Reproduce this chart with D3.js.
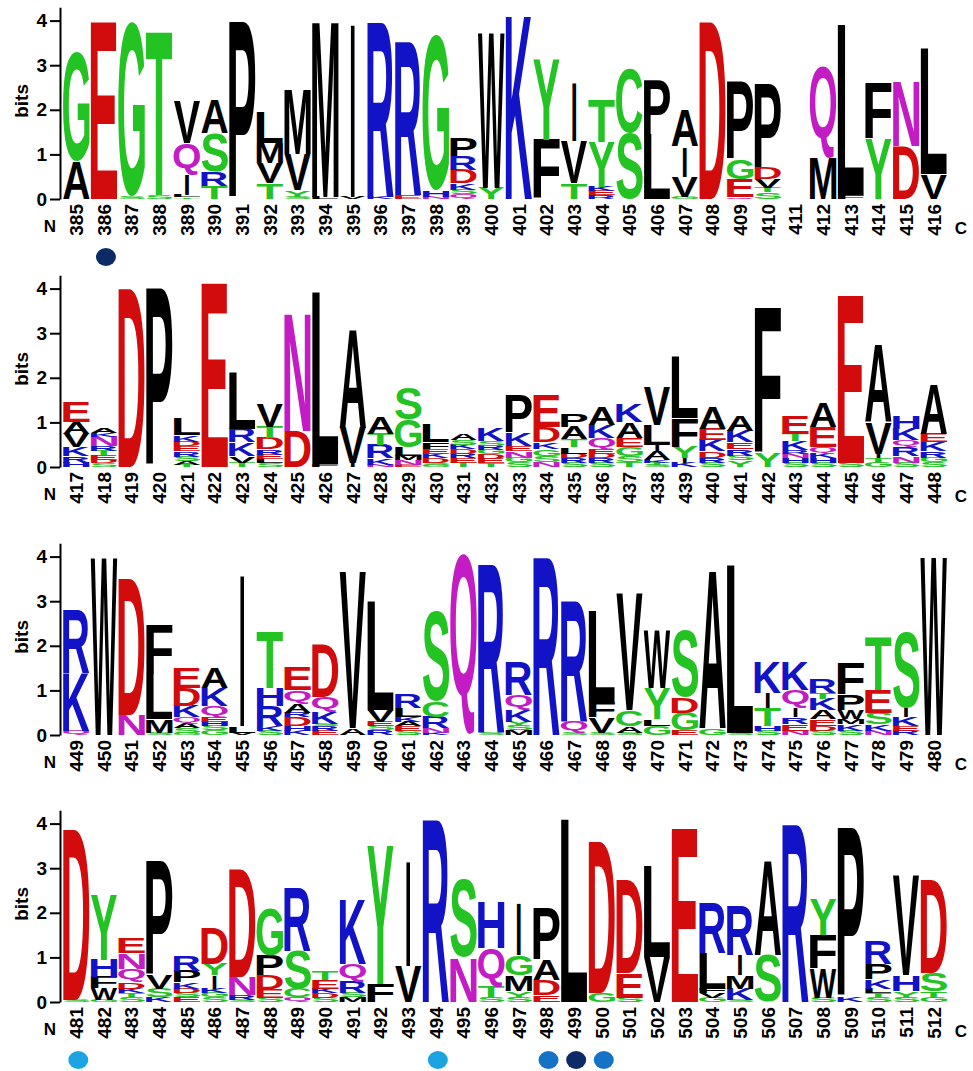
<!DOCTYPE html>
<html><head><meta charset="utf-8">
<script src="https://cdn.jsdelivr.net/npm/d3@7"></script>
<style>body{margin:0;background:#fff} svg{display:block}</style>
</head><body>
<svg id="chart" width="973" height="1071"></svg>
<script>
// ---- DATA ----
const rowStartPositions = [385, 417, 449, 481];
const yTickValues = [0, 1, 2, 3, 4];
// each stack: letters bottom -> top, [residue, bits]
const stacksRow1 = [
 [["A",0.85],["G",2.45]],
 [["E",3.95]],
 [["S",0.05],["G",3.9]],
 [["S",0.08],["T",3.7]],
 [["T",0.04],["L",0.06],["I",0.45],["Q",0.7],["V",0.95]],
 [["T",0.3],["R",0.32],["S",0.85],["A",0.75]],
 [["P",3.95]],
 [["T",0.35],["V",0.45],["M",0.45],["L",0.7]],
 [["S",0.05],["Y",0.15],["V",0.8],["M",1.45]],
 [["L",0.05],["M",3.95]],
 [["V",0.04],["I",3.9]],
 [["K",0.05],["R",3.9]],
 [["E",0.08],["R",3.42]],
 [["N",0.05],["H",0.15],["G",3.5]],
 [["Q",0.1],["S",0.1],["K",0.15],["D",0.3],["R",0.3],["P",0.4]],
 [["Y",0.25],["W",3.48]],
 [["K",4.15]],
 [["F",1.33],["Y",1.8]],
 [["T",0.35],["V",0.95],["I",1.32]],
 [["R",0.08],["E",0.1],["K",0.1],["Y",1.0],["T",0.95]],
 [["S",1.48],["C",1.46]],
 [["L",1.45],["P",1.22]],
 [["G",0.05],["V",0.45],["I",0.68],["A",0.82]],
 [["D",3.95]],
 [["Q",0.05],["E",0.4],["G",0.45],["P",1.75]],
 [["S",0.15],["T",0.1],["V",0.2],["D",0.25],["P",1.9]],
 [],
 [["M",0.92],["Q",2.06]],
 [["F",0.08],["L",3.82]],
 [["Y",1.35],["F",1.25]],
 [["D",1.18],["N",1.46]],
 [["V",0.55],["L",2.8]]
];
const stacksRow2 = [
 [["H",0.1],["R",0.15],["K",0.2],["V",0.3],["A",0.25],["E",0.45]],
 [["S",0.08],["D",0.08],["E",0.1],["T",0.1],["R",0.1],["N",0.22],["K",0.08],["A",0.12]],
 [["D",4.0]],
 [["P",4.0]],
 [["T",0.05],["A",0.08],["S",0.1],["R",0.12],["E",0.12],["D",0.1],["K",0.15],["L",0.38]],
 [["E",4.12]],
 [["T",0.1],["V",0.15],["K",0.3],["R",0.3],["L",1.25]],
 [["S",0.08],["L",0.1],["E",0.1],["R",0.12],["D",0.25],["T",0.25],["V",0.5]],
 [["D",0.8],["N",2.65]],
 [["F",0.06],["L",3.86]],
 [["I",0.08],["V",0.8],["A",2.2]],
 [["N",0.05],["K",0.15],["R",0.3],["T",0.25],["A",0.38]],
 [["E",0.05],["N",0.1],["M",0.1],["L",0.2],["G",0.62],["S",0.7]],
 [["G",0.05],["S",0.05],["D",0.1],["K",0.1],["E",0.1],["F",0.15],["L",0.4]],
 [["T",0.1],["E",0.1],["R",0.1],["D",0.1],["K",0.1],["S",0.1],["A",0.15]],
 [["T",0.08],["E",0.1],["D",0.1],["G",0.1],["R",0.1],["S",0.1],["K",0.3]],
 [["S",0.1],["G",0.1],["N",0.15],["E",0.12],["K",0.3],["P",0.85]],
 [["N",0.1],["S",0.15],["G",0.15],["K",0.15],["D",0.35],["E",0.72]],
 [["S",0.1],["R",0.1],["D",0.1],["L",0.15],["T",0.17],["A",0.28],["P",0.3]],
 [["S",0.1],["R",0.1],["D",0.1],["E",0.1],["Q",0.25],["K",0.3],["A",0.4]],
 [["T",0.1],["S",0.15],["G",0.2],["E",0.2],["A",0.35],["K",0.4]],
 [["S",0.05],["T",0.05],["K",0.05],["A",0.2],["I",0.15],["L",0.45],["V",0.85]],
 [["K",0.1],["I",0.1],["Y",0.25],["F",0.65],["L",1.38]],
 [["S",0.1],["R",0.1],["D",0.15],["K",0.25],["E",0.25],["A",0.5]],
 [["Y",0.15],["S",0.1],["R",0.15],["E",0.15],["K",0.25],["A",0.35]],
 [["Y",0.3],["F",3.25]],
 [["S",0.1],["H",0.1],["N",0.1],["R",0.09],["K",0.2],["T",0.16],["E",0.41]],
 [["S",0.1],["H",0.1],["K",0.1],["Q",0.15],["E",0.45],["A",0.55]],
 [["S",0.1],["E",3.75]],
 [["G",0.1],["T",0.1],["I",0.1],["V",0.7],["A",1.74]],
 [["S",0.1],["N",0.15],["R",0.2],["Q",0.15],["K",0.25],["H",0.3]],
 [["S",0.1],["G",0.1],["R",0.15],["K",0.2],["E",0.2],["A",1.1]]
];
const stacksRow3 = [
 [["Q",0.1],["K",1.3],["R",1.4]],
 [["W",3.95]],
 [["N",0.45],["D",3.05]],
 [["S",0.05],["M",0.3],["L",1.0],["F",1.1]],
 [["G",0.05],["S",0.1],["A",0.1],["Q",0.15],["K",0.25],["D",0.4],["E",0.45]],
 [["G",0.1],["S",0.1],["H",0.1],["E",0.1],["Q",0.25],["K",0.4],["A",0.45]],
 [["V",0.05],["L",0.15],["I",3.42]],
 [["S",0.1],["K",0.1],["R",0.45],["H",0.4],["T",1.27]],
 [["K",0.1],["H",0.1],["D",0.2],["R",0.1],["A",0.2],["Q",0.3],["E",0.5]],
 [["E",0.1],["R",0.1],["S",0.05],["K",0.25],["Q",0.35],["D",1.17]],
 [["A",0.15],["V",3.5]],
 [["R",0.1],["S",0.1],["E",0.1],["V",0.25],["L",2.45]],
 [["S",0.1],["E",0.1],["A",0.1],["K",0.1],["L",0.2],["R",0.3]],
 [["K",0.05],["N",0.1],["R",0.25],["C",0.35],["S",2.0]],
 [["Q",4.05]],
 [["S",0.05],["R",3.75]],
 [["M",0.1],["S",0.1],["Y",0.1],["K",0.25],["Q",0.35],["R",0.75]],
 [["R",3.95]],
 [["S",0.05],["Q",0.25],["R",2.7]],
 [["S",0.05],["V",0.35],["F",0.35],["L",2.05]],
 [["S",0.05],["A",0.15],["C",0.35],["V",2.6]],
 [["G",0.2],["L",0.15],["Y",0.7],["W",1.3]],
 [["E",0.1],["G",0.4],["D",0.35],["S",1.5]],
 [["G",0.15],["A",3.55]],
 [["S",0.05],["L",3.75]],
 [["S",0.1],["H",0.1],["T",0.4],["I",0.35],["K",0.7]],
 [["N",0.1],["E",0.15],["R",0.15],["I",0.2],["Q",0.4],["K",0.65]],
 [["S",0.1],["D",0.1],["E",0.15],["A",0.2],["K",0.25],["T",0.15],["R",0.3]],
 [["S",0.1],["K",0.15],["M",0.1],["W",0.2],["P",0.35],["F",0.7]],
 [["N",0.1],["K",0.15],["S",0.25],["E",0.5],["T",1.2]],
 [["R",0.1],["E",0.1],["K",0.2],["I",0.2],["S",1.7]],
 [["W",3.98]]
];
const stacksRow4 = [
 [["S",0.05],["D",3.82]],
 [["G",0.05],["W",0.25],["F",0.25],["H",0.4],["Y",1.45]],
 [["S",0.1],["T",0.1],["K",0.1],["D",0.15],["Q",0.3],["N",0.35],["E",0.35]],
 [["K",0.1],["S",0.2],["V",0.3],["P",2.55]],
 [["E",0.1],["S",0.1],["D",0.1],["K",0.15],["P",0.25],["R",0.35]],
 [["S",0.1],["G",0.1],["K",0.1],["I",0.3],["Y",0.25],["D",0.8]],
 [["S",0.05],["R",0.1],["N",0.4],["D",2.4]],
 [["S",0.1],["E",0.2],["D",0.3],["P",0.45],["G",1.05]],
 [["Q",0.1],["C",0.2],["S",0.85],["R",1.4]],
 [["S",0.1],["D",0.1],["K",0.1],["E",0.2],["T",0.2]],
 [["M",0.1],["S",0.1],["R",0.25],["Q",0.4],["K",1.45]],
 [["F",0.4],["Y",3.1]],
 [["V",0.8],["I",2.35]],
 [["R",4.08]],
 [["N",1.0],["S",1.75]],
 [["S",0.1],["T",0.25],["Q",0.85],["H",1.05]],
 [["S",0.1],["Y",0.15],["M",0.35],["G",0.45],["I",1.15]],
 [["E",0.15],["D",0.35],["A",0.45],["P",1.15]],
 [["L",4.1]],
 [["G",0.2],["D",3.4]],
 [["S",0.1],["E",0.55],["D",2.1]],
 [["V",1.0],["L",2.05]],
 [["E",3.88]],
 [["G",0.1],["V",0.1],["F",0.1],["L",0.8],["R",1.12]],
 [["S",0.05],["K",0.25],["M",0.3],["I",0.45],["R",1.1]],
 [["S",1.05],["A",2.12]],
 [["R",3.95]],
 [["S",0.1],["W",0.65],["F",0.75],["Y",0.8]],
 [["K",0.1],["P",3.8]],
 [["S",0.1],["T",0.1],["L",0.1],["K",0.2],["P",0.35],["R",0.5]],
 [["S",0.1],["Y",0.15],["H",0.35],["V",2.25]],
 [["G",0.1],["T",0.15],["S",0.4],["D",2.1]]
];
const markedPositions = [386, 481, 494, 498, 499, 500];
const markedTones = ["dark", "light", "light", "mid", "dark", "mid"];

// ---- STYLE ----
const BIT = 44.6;
const rowBaselines = [199, 467, 735, 1002];
const xLeft = 63, xRight = 947;
const residueColor = {
  G:"#22c322", S:"#22c322", T:"#22c322", Y:"#22c322", C:"#22c322",
  K:"#1212c6", R:"#1212c6", H:"#1212c6",
  D:"#d20c0c", E:"#d20c0c",
  Q:"#c41cc4", N:"#c41cc4",
  A:"#000", V:"#000", L:"#000", I:"#000", P:"#000", W:"#000", F:"#000", M:"#000"
};
const toneColor = {dark:"#0b2a66", mid:"#1672c4", light:"#1ca4e2"};
const LOGO_FONT = '"Liberation Sans", Arial, sans-serif';
const FONT_PX = 100;

const ctx = document.createElement("canvas").getContext("2d");
ctx.font = `bold ${FONT_PX}px ${LOGO_FONT}`;
const inkCache = {};
function ink(ch) {
  if (!inkCache[ch]) {
    const m = ctx.measureText(ch);
    inkCache[ch] = {l: m.actualBoundingBoxLeft, r: m.actualBoundingBoxRight,
                    a: m.actualBoundingBoxAscent, d: m.actualBoundingBoxDescent};
  }
  return inkCache[ch];
}

const svg = d3.select("#chart");
const allRows = [stacksRow1, stacksRow2, stacksRow3, stacksRow4];

allRows.forEach((stacks, ri) => {
  const base = rowBaselines[ri];
  const positions = stacks.map((_, i) => rowStartPositions[ri] + i);
  const x = d3.scaleBand().domain(positions).range([xLeft, xRight]).paddingInner(0.04).paddingOuter(0);
  const y = d3.scaleLinear().domain([0, 4.3]).range([base, base - 4.3 * BIT]);
  const g = svg.append("g");

  // axis
  const axis = d3.axisLeft(y).tickValues(yTickValues).tickFormat(d3.format("d"))
    .tickSize(10).tickSizeOuter(0).tickPadding(3);
  const ag = g.append("g").attr("transform", "translate(60,0)").call(axis);
  ag.select(".domain").attr("stroke", "#000").attr("stroke-width", 2);
  ag.selectAll(".tick line").attr("stroke", "#000").attr("stroke-width", 2);
  ag.selectAll(".tick text").attr("font-family", LOGO_FONT).attr("font-weight", "bold")
    .attr("font-size", 19).attr("fill", "#000");

  g.append("text").attr("transform", `translate(28,${y(2.2)}) rotate(-90)`)
    .attr("text-anchor", "middle").attr("font-family", LOGO_FONT).attr("font-weight", "bold")
    .attr("font-size", 19).text("bits");

  // letters
  stacks.forEach((stack, ci) => {
    const pos = positions[ci];
    const bw = x.bandwidth();
    let cum = 0;
    stack.forEach(([ch, h]) => {
      const y0 = y(cum), y1 = y(cum + h);
      cum += h;
      const hpx = y0 - y1;
      if (hpx <= 0.05) return;
      const m = ink(ch);
      let w = bw, x0 = x(pos);
      if (ch === "I") { w = 4; x0 = x(pos) + (bw - w) / 2; }
      const sx = w / (m.l + m.r), sy = hpx / (m.a + m.d);
      g.append("text")
        .attr("transform", `translate(${x0},${y1}) scale(${sx},${sy}) translate(${m.l},${m.a})`)
        .attr("font-family", LOGO_FONT).attr("font-weight", "bold").attr("font-size", FONT_PX)
        .attr("fill", residueColor[ch]).text(ch);
    });
  });

  // position labels
  g.selectAll("text.pos").data(positions).enter().append("text")
    .attr("class", "pos")
    .attr("transform", d => `translate(${x(d) + x.bandwidth() / 2},${base + 5}) rotate(-90)`)
    .attr("dy", "0.36em").attr("text-anchor", "end")
    .attr("font-family", LOGO_FONT).attr("font-weight", "bold").attr("font-size", 19)
    .text(d => d);

  g.append("text").attr("x", 50).attr("y", base + 27).attr("dy", "0.36em").attr("text-anchor", "middle")
    .attr("font-family", LOGO_FONT).attr("font-weight", "bold").attr("font-size", 17).text("N");
  g.append("text").attr("x", 961).attr("y", base + 29).attr("dy", "0.36em").attr("text-anchor", "middle")
    .attr("font-family", LOGO_FONT).attr("font-weight", "bold").attr("font-size", 17).text("C");

  // markers
  markedPositions.forEach((p, k) => {
    if (!positions.includes(p)) return;
    g.append("ellipse").attr("cx", x(p) + x.bandwidth() / 2 + 2).attr("cy", base + 58)
      .attr("rx", 10).attr("ry", 9).attr("fill", toneColor[markedTones[k]]);
  });
});
</script>
</body></html>
